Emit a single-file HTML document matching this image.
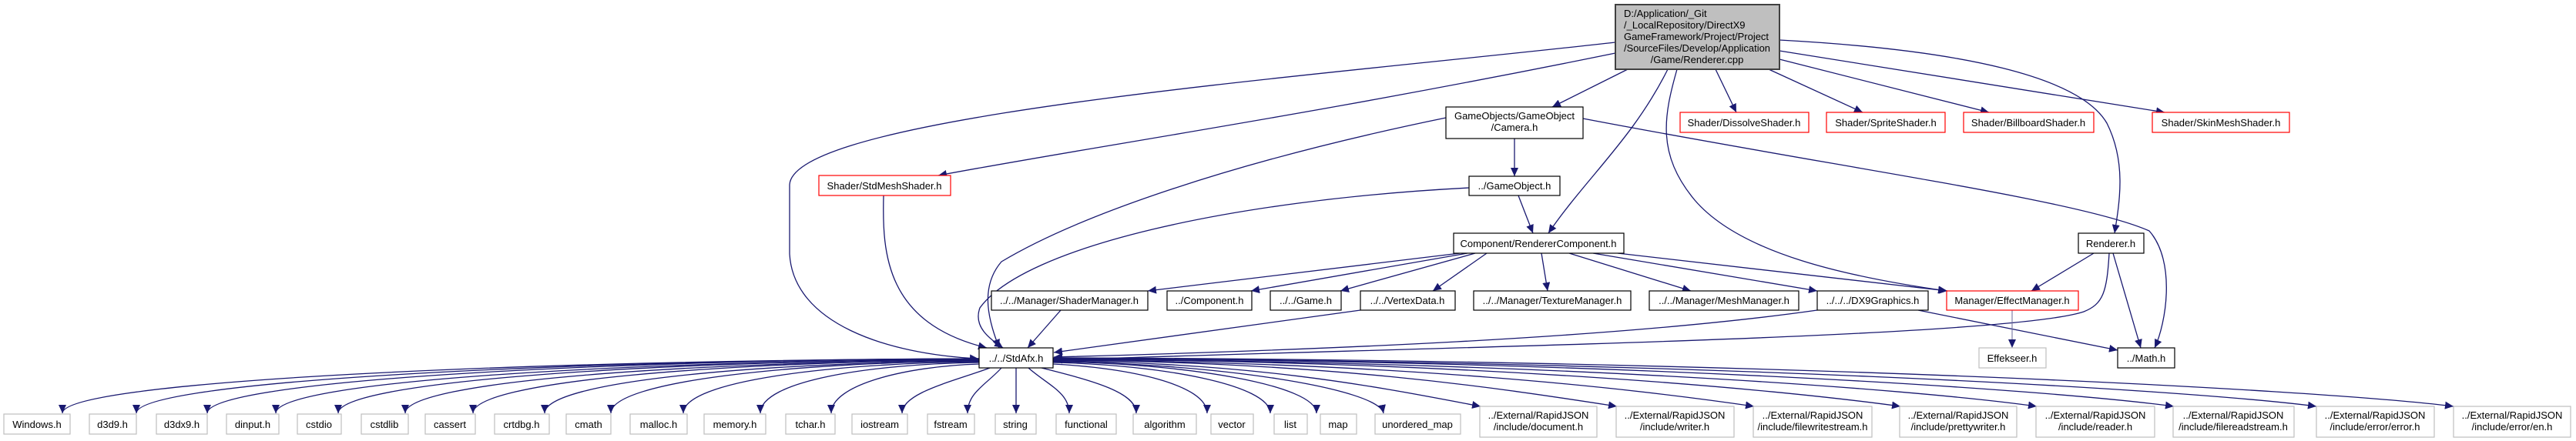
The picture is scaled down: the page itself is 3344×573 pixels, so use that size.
<!DOCTYPE html>
<html><head><meta charset="utf-8">
<style>
html,body{margin:0;padding:0;background:#fff;}
svg{display:block;}
text{font-family:"Liberation Sans",Arial,sans-serif;font-size:13px;fill:#000;}
.e{fill:none;stroke:#191970;stroke-width:1.3;}
.bk{fill:#fff;stroke:#000;stroke-width:1.2;}
.rd{fill:#fff;stroke:#ff0000;stroke-width:1.2;}
.gr{fill:#fff;stroke:#bfbfbf;stroke-width:1.2;}
</style></head>
<body>
<svg width="3344" height="573" viewBox="0 0 3344 573" xmlns="http://www.w3.org/2000/svg">
<defs>
<marker id="a" markerUnits="userSpaceOnUse" markerWidth="12" markerHeight="10" refX="11" refY="5" orient="auto">
<path d="M0,0 L11,5 L0,10 z" fill="#191970"/>
</marker>
</defs>

<!-- edges -->
<g class="e" marker-end="url(#a)">
<path d="M2097,55 C1700,100 1030,150 1025,240 L1025,330 C1030,420 1150,460 1270,466"/>
<path d="M2097,69 C1700,150 1420,190 1218,228"/>
<path d="M2113,90 L2015,139"/>
<path d="M2165,90 C2120,180 2060,230 2010,303"/>
<path d="M2177,90 C2160,150 2150,200 2200,260 C2260,330 2400,360 2527,378"/>
<path d="M2227,90 L2254,146"/>
<path d="M2296,90 L2418,146"/>
<path d="M2310,77 L2582,146"/>
<path d="M2310,66 L2810,146"/>
<path d="M2310,52 C2550,65 2700,100 2735,160 C2760,210 2752,260 2745,303"/>
<path d="M1966,180 L1966,229"/>
<path d="M1877,153 C1600,210 1400,280 1300,340 C1270,375 1285,420 1297,452"/>
<path d="M1907,244 C1600,260 1330,320 1272,400 C1263,425 1285,440 1302,452"/>
<path d="M2055,154 C2400,220 2700,260 2790,300 C2825,340 2812,420 2797,452"/>
<path d="M1971,254 L1990,303"/>
<path d="M1147,254 C1145,330 1150,420 1281,452"/>
<path d="M1895,329 L1490,378"/>
<path d="M1905,329 L1624,378"/>
<path d="M1915,329 L1740,378"/>
<path d="M1930,329 L1860,378"/>
<path d="M2001,329 L2009,378"/>
<path d="M2037,329 L2195,378"/>
<path d="M2068,329 L2359,378"/>
<path d="M2100,329 L2528,378"/>
<path d="M1377,403 L1334,452"/>
<path d="M1766,403 L1368,458"/>
<path d="M2359,403 C2100,440 1700,455 1368,464"/>
<path d="M2490,403 L2749,455"/>
<path d="M2718,329 L2637,378"/>
<path d="M2743,329 L2779,452"/>
<path d="M2738,329 C2735,380 2730,395 2705,405 C2600,440 1800,452 1368,468"/>
<!-- bottom fan left -->
<path d="M1271,466 C676,468 81,495 81,537"/>
<path d="M1271,466 C724,468 177,495 177,537"/>
<path d="M1271,466 C770,468 269,495 269,537"/>
<path d="M1271,467 C814,469 358,495 358,537"/>
<path d="M1271,467 C855,469 439,495 439,537"/>
<path d="M1271,468 C898,470 526,495 526,537"/>
<path d="M1271,468 C942,470 614,495 614,537"/>
<path d="M1271,469 C989,471 707,495 707,537"/>
<path d="M1271,469 C1032,471 793,495 793,537"/>
<path d="M1271,470 C1079,472 887,495 887,537"/>
<path d="M1271,471 C1129,473 987,495 987,537"/>
<path d="M1271,473 C1175,476 1079,500 1079,537"/>
<path d="M1285,478 C1240,495 1171,510 1171,537"/>
<path d="M1300,478 C1280,500 1256,510 1256,537"/>
<path d="M1319,478 L1319,537"/>
<path d="M1335,478 C1360,500 1388,510 1388,537"/>
<path d="M1352,478 C1420,495 1475,510 1475,537"/>
<path d="M1367,473 C1467,478 1567,500 1567,537"/>
<path d="M1367,471 C1508,474 1649,500 1649,537"/>
<path d="M1367,470 C1538,472 1709,500 1709,537"/>
<path d="M1367,470 C1581,472 1790,505 1796,537"/>
<!-- bottom fan right -->
<path d="M1367,469 C1638,471 1800,505 1922,528"/>
<path d="M1367,468 C1728,470 1950,505 2099,528"/>
<path d="M1367,468 C1817,470 2120,505 2277,528"/>
<path d="M1367,467 C1909,469 2300,505 2467,528"/>
<path d="M1367,467 C2000,469 2480,505 2644,528"/>
<path d="M1367,466 C2090,468 2650,505 2822,528"/>
<path d="M1367,466 C2182,468 2830,505 3007,528"/>
<path d="M1367,465 C2271,467 3000,505 3185,528"/>
</g>
<path d="M2612,403 L2612,452" fill="none" stroke="#6a6a9a" stroke-width="1" marker-end="url(#a)"/>

<!-- nodes -->
<rect x="2097" y="6" width="213" height="84" fill="#bfbfbf" stroke="#404040" stroke-width="2"/>
<text x="2108" y="22">D:/Application/_Git</text>
<text x="2108" y="37">/_LocalRepository/DirectX9</text>
<text x="2108" y="52" textLength="188" lengthAdjust="spacingAndGlyphs">GameFramework/Project/Project</text>
<text x="2108" y="67" textLength="190" lengthAdjust="spacingAndGlyphs">/SourceFiles/Develop/Application</text>
<text x="2203" y="82" text-anchor="middle">/Game/Renderer.cpp</text>

<rect class="bk" x="1877" y="139" width="178" height="41"/>
<text x="1966" y="155" text-anchor="middle">GameObjects/GameObject</text>
<text x="1966" y="170" text-anchor="middle">/Camera.h</text>

<g text-anchor="middle">
<rect class="bk" x="1907" y="229" width="118" height="25"/><text x="1966" y="246">../GameObject.h</text>
<rect class="rd" x="1063" y="228" width="171" height="26"/><text x="1148" y="246">Shader/StdMeshShader.h</text>
<rect class="rd" x="2181" y="146" width="167" height="26"/><text x="2264" y="164">Shader/DissolveShader.h</text>
<rect class="rd" x="2371" y="146" width="154" height="26"/><text x="2448" y="164">Shader/SpriteShader.h</text>
<rect class="rd" x="2549" y="146" width="169" height="26"/><text x="2633" y="164">Shader/BillboardShader.h</text>
<rect class="rd" x="2794" y="146" width="178" height="26"/><text x="2883" y="164">Shader/SkinMeshShader.h</text>
<rect class="bk" x="1887" y="303" width="221" height="26"/><text x="1997" y="321">Component/RendererComponent.h</text>
<rect class="bk" x="2698" y="303" width="85" height="26"/><text x="2740" y="321">Renderer.h</text>
<rect class="bk" x="1287" y="378" width="203" height="25"/><text x="1388" y="395">../../Manager/ShaderManager.h</text>
<rect class="bk" x="1515" y="378" width="110" height="25"/><text x="1570" y="395">../Component.h</text>
<rect class="bk" x="1649" y="378" width="92" height="25"/><text x="1695" y="395">../../Game.h</text>
<rect class="bk" x="1766" y="378" width="123" height="25"/><text x="1827" y="395">../../VertexData.h</text>
<rect class="bk" x="1913" y="378" width="204" height="25"/><text x="2015" y="395">../../Manager/TextureManager.h</text>
<rect class="bk" x="2141" y="378" width="194" height="25"/><text x="2238" y="395">../../Manager/MeshManager.h</text>
<rect class="bk" x="2359" y="378" width="144" height="25"/><text x="2431" y="395">../../../DX9Graphics.h</text>
<rect class="rd" x="2527" y="378" width="171" height="25"/><text x="2612" y="395">Manager/EffectManager.h</text>
<rect class="bk" x="1271" y="452" width="96" height="26"/><text x="1319" y="470">../../StdAfx.h</text>
<rect class="gr" x="2569" y="452" width="87" height="26"/><text x="2612" y="470">Effekseer.h</text>
<rect class="bk" x="2749" y="452" width="74" height="26"/><text x="2786" y="470">../Math.h</text>

<rect class="gr" x="5" y="538" width="86" height="26"/><text x="48" y="556">Windows.h</text>
<rect class="gr" x="116" y="538" width="61" height="26"/><text x="146" y="556">d3d9.h</text>
<rect class="gr" x="203" y="538" width="66" height="26"/><text x="236" y="556">d3dx9.h</text>
<rect class="gr" x="294" y="538" width="68" height="26"/><text x="328" y="556">dinput.h</text>
<rect class="gr" x="386" y="538" width="57" height="26"/><text x="414" y="556">cstdio</text>
<rect class="gr" x="469" y="538" width="61" height="26"/><text x="499" y="556">cstdlib</text>
<rect class="gr" x="552" y="538" width="65" height="26"/><text x="584" y="556">cassert</text>
<rect class="gr" x="642" y="538" width="71" height="26"/><text x="677" y="556">crtdbg.h</text>
<rect class="gr" x="735" y="538" width="58" height="26"/><text x="764" y="556">cmath</text>
<rect class="gr" x="818" y="538" width="74" height="26"/><text x="855" y="556">malloc.h</text>
<rect class="gr" x="914" y="538" width="80" height="26"/><text x="954" y="556">memory.h</text>
<rect class="gr" x="1020" y="538" width="64" height="26"/><text x="1052" y="556">tchar.h</text>
<rect class="gr" x="1106" y="538" width="72" height="26"/><text x="1142" y="556">iostream</text>
<rect class="gr" x="1204" y="538" width="61" height="26"/><text x="1234" y="556">fstream</text>
<rect class="gr" x="1292" y="538" width="53" height="26"/><text x="1318" y="556">string</text>
<rect class="gr" x="1371" y="538" width="78" height="26"/><text x="1410" y="556">functional</text>
<rect class="gr" x="1471" y="538" width="82" height="26"/><text x="1512" y="556">algorithm</text>
<rect class="gr" x="1572" y="538" width="55" height="26"/><text x="1599" y="556">vector</text>
<rect class="gr" x="1654" y="538" width="43" height="26"/><text x="1675" y="556">list</text>
<rect class="gr" x="1714" y="538" width="47" height="26"/><text x="1737" y="556">map</text>
<rect class="gr" x="1785" y="538" width="111" height="26"/><text x="1840" y="556">unordered_map</text>

<rect class="gr" x="1921" y="528" width="152" height="40"/><text x="1997" y="544">../External/RapidJSON</text><text x="1997" y="559">/include/document.h</text>
<rect class="gr" x="2098" y="528" width="153" height="40"/><text x="2174" y="544">../External/RapidJSON</text><text x="2174" y="559">/include/writer.h</text>
<rect class="gr" x="2276" y="528" width="154" height="40"/><text x="2353" y="544">../External/RapidJSON</text><text x="2353" y="559">/include/filewritestream.h</text>
<rect class="gr" x="2466" y="528" width="152" height="40"/><text x="2542" y="544">../External/RapidJSON</text><text x="2542" y="559">/include/prettywriter.h</text>
<rect class="gr" x="2643" y="528" width="154" height="40"/><text x="2720" y="544">../External/RapidJSON</text><text x="2720" y="559">/include/reader.h</text>
<rect class="gr" x="2821" y="528" width="157" height="40"/><text x="2899" y="544">../External/RapidJSON</text><text x="2899" y="559">/include/filereadstream.h</text>
<rect class="gr" x="3007" y="528" width="153" height="40"/><text x="3083" y="544">../External/RapidJSON</text><text x="3083" y="559">/include/error/error.h</text>
<rect class="gr" x="3185" y="528" width="152" height="40"/><text x="3261" y="544">../External/RapidJSON</text><text x="3261" y="559">/include/error/en.h</text>
</g>
</svg>
</body></html>
